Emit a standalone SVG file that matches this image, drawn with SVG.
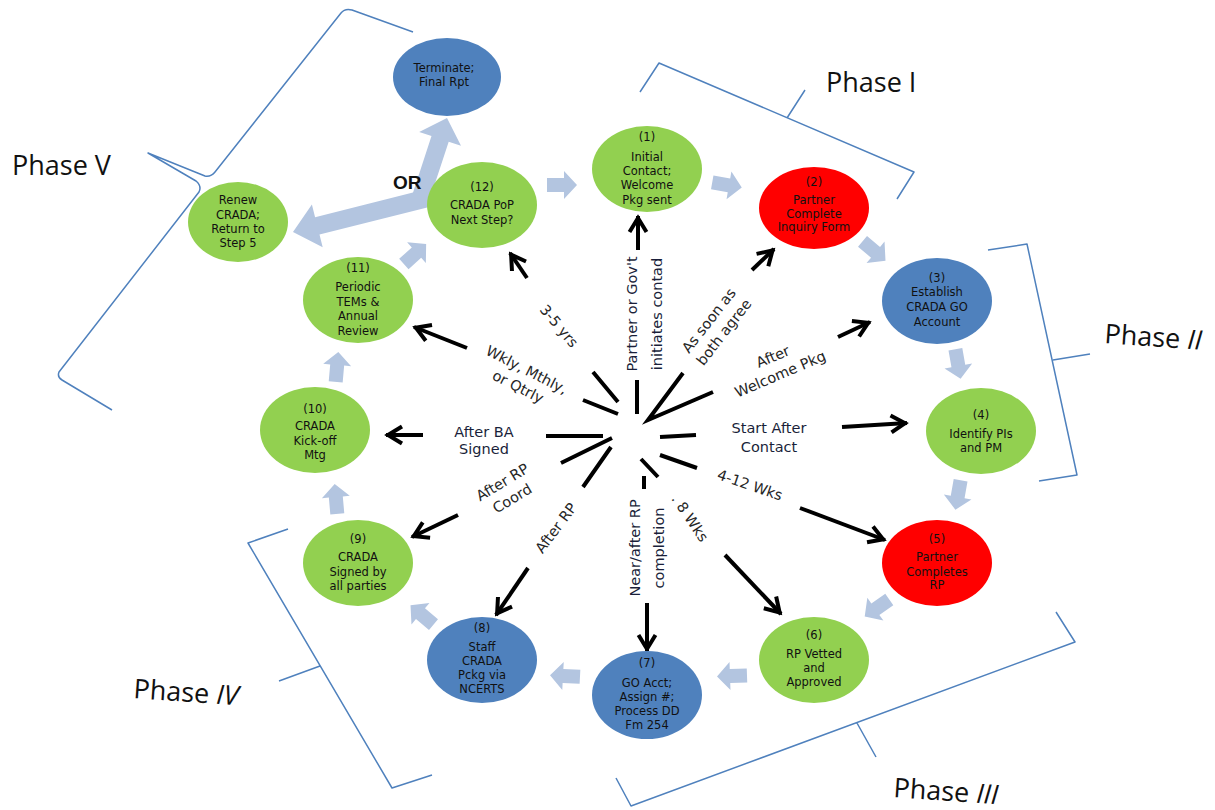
<svg xmlns="http://www.w3.org/2000/svg" width="1215" height="810" viewBox="0 0 1215 810">
<style>
.g{fill:#92D050}.r{fill:#FF0000}.b{fill:#4F81BD}
.nt{font-family:"DejaVu Sans",sans-serif;font-size:11.5px;fill:#111;text-anchor:middle}
.lbl{font-family:"DejaVu Sans",sans-serif;font-size:14.5px;fill:#262626;text-anchor:middle}
.lbn{font-family:"DejaVu Sans",sans-serif;font-size:14.5px;fill:#1a1f3a;text-anchor:middle}
.ph{font-family:"Open Sans",sans-serif;font-size:27px;fill:#111}
.br{fill:none;stroke:#4F81BD;stroke-width:1.5;stroke-linejoin:round}
.sp{stroke:#000;stroke-width:4;fill:none}
.ar{stroke:#000;stroke-width:4;fill:none;marker-end:url(#v)}
.blk{fill:#B3C5E0}
</style>
<defs>
<marker id="v" viewBox="0 0 24 20" refX="19" refY="10" markerWidth="24" markerHeight="20" markerUnits="userSpaceOnUse" orient="auto" style="overflow:visible">
<path d="M3,1.5 L17,10 L3,18.5" fill="none" stroke="#000" stroke-width="4"/>
</marker>
<polygon id="ba" points="-15,-7 2,-7 2,-14 15,0 2,14 2,7 -15,7"/>
</defs>
<rect width="1215" height="810" fill="#fff"/>

<g id="brackets">
<path class="br" d="M640,92 L659,63 L914,172 L897,199 M787,118 L805,90"/>
<path class="br" d="M988,250 L1027,244 L1077,475 L1039,481 M1053,360 L1090,354"/>
<path class="br" d="M1056,612 L1075,642 L631,806 L616,778 M857,723 L876,757"/>
<path class="br" d="M288,529 L248,543 L392,788 L432,775 M320,666 L279,681"/>
<path class="br" d="M413,32 L352,10 Q345,8 341,13 L215,172 Q211,177 205,176 L148,153 L196,181 Q202,186 199,192 L59,372 Q57,377 62,380 L112,410"/>
</g>

<g id="phase-labels">
<text class="ph" x="826" y="92">Phase I</text>
<text class="ph" transform="translate(1104,343) rotate(4)">Phase <tspan font-style="italic">II</tspan></text>
<text class="ph" transform="translate(893,797) rotate(4)">Phase <tspan font-style="italic">III</tspan></text>
<text class="ph" transform="translate(133,698) rotate(4)">Phase <tspan font-style="italic">IV</tspan></text>
<text class="ph" x="12" y="175">Phase V</text>
</g>

<g id="flow-arrows" class="blk">
<polygon points="411.5,197.2 431.5,136.1 419.2,132.0 447,118 461.0,145.8 448.7,141.7 428.6,202.8"/>
<polygon points="425.8,189.3 315.1,217.2 311.9,204.6 293,232 322.7,247.2 319.5,234.6 430.2,206.7"/>
<use href="#ba" transform="translate(562,185) rotate(0)"/>
<use href="#ba" transform="translate(727,185) rotate(10)"/>
<use href="#ba" transform="translate(874,251) rotate(40)"/>
<use href="#ba" transform="translate(958,364) rotate(80)"/>
<use href="#ba" transform="translate(958,495) rotate(100)"/>
<use href="#ba" transform="translate(877,608) rotate(145)"/>
<use href="#ba" transform="translate(732,676) rotate(178)"/>
<use href="#ba" transform="translate(565,676) rotate(183)"/>
<use href="#ba" transform="translate(422,615) rotate(220)"/>
<use href="#ba" transform="translate(336,499) rotate(265)"/>
<use href="#ba" transform="translate(337,367) rotate(275)"/>
<use href="#ba" transform="translate(415,254) rotate(318)"/>
</g>
<text x="393" y="189" font-family="Liberation Sans,sans-serif" font-weight="bold" font-size="19" fill="#111">OR</text>

<g id="connectors">
<path class="sp" d="M593,372 L618,402 M583,400 L618,414 M637,380 L637,414 M683,373 L648,420 L713,392 M660,437 L696,435 M660,455 L697,468 M641,459 L658,477 M644,476 L644,489 M611,447 L583,487 M612,438 L561,463 M546,436 L603,436"/>
<line class="ar" x1="527" y1="278" x2="510" y2="253"/>
<line class="ar" x1="467" y1="348" x2="414" y2="327"/>
<line class="ar" x1="423" y1="435" x2="386" y2="435"/>
<line class="ar" x1="458" y1="515" x2="412" y2="537"/>
<line class="ar" x1="528" y1="568" x2="496" y2="615"/>
<line class="ar" x1="647" y1="603" x2="647" y2="651"/>
<line class="ar" x1="725" y1="555" x2="781" y2="614"/>
<line class="ar" x1="800" y1="508" x2="885" y2="540"/>
<line class="ar" x1="842" y1="427" x2="907" y2="423"/>
<line class="ar" x1="838" y1="337" x2="870" y2="322"/>
<line class="ar" x1="752" y1="270" x2="774" y2="249"/>
<line class="ar" x1="638" y1="250" x2="638" y2="216"/>
</g>

<g id="connector-labels">
<text class="lbl" transform="translate(559,326) rotate(50)" y="5">3-5 yrs</text>
<text class="lbl" transform="translate(523,377) rotate(27)"><tspan x="0" y="-3">Wkly, Mthly,</tspan><tspan x="0" y="16">or Qtrly</tspan></text>
<text class="lbn" transform="translate(644,314) rotate(-90)"><tspan x="0" y="-7">Partner or Gov't</tspan><tspan x="0" y="18">initiates contad</tspan></text>
<text class="lbl" transform="translate(716,326) rotate(-52)"><tspan x="0" y="-4">As soon as</tspan><tspan x="0" y="15">both agree</tspan></text>
<text class="lbl" transform="translate(776,364) rotate(-23)"><tspan x="0" y="-3">After</tspan><tspan x="0" y="16">Welcome Pkg</tspan></text>
<text class="lbn" x="769" y="433">Start After</text>
<text class="lbn" x="769" y="452">Contact</text>
<text class="lbl" transform="translate(750,485) rotate(19)" y="5">4-12 Wks</text>
<text class="lbl" transform="translate(690,518) rotate(56)" y="5">. 8 Wks</text>
<text class="lbn" transform="translate(646,548) rotate(-90)"><tspan x="0" y="-6">Near/after RP</tspan><tspan x="0" y="18">completion</tspan></text>
<text class="lbl" transform="translate(556,528) rotate(-53)" y="5">After RP</text>
<text class="lbl" transform="translate(507,490) rotate(-31)"><tspan x="0" y="-4">After RP</tspan><tspan x="0" y="15">Coord</tspan></text>
<text class="lbn" x="484" y="437">After BA</text>
<text class="lbn" x="484" y="454">Signed</text>
</g>

<g id="node-terminate"><ellipse class="b" cx="447" cy="77" rx="54" ry="39"/>
<text class="nt"><tspan x="444" y="72">Terminate;</tspan><tspan x="444" y="86">Final Rpt</tspan></text></g>
<g id="node-12"><ellipse class="g" cx="482" cy="205" rx="55" ry="43"/>
<text class="nt"><tspan x="482" y="191">(12)</tspan><tspan x="482" y="209">CRADA PoP</tspan><tspan x="482" y="224">Next Step?</tspan></text></g>
<g id="node-renew"><ellipse class="g" cx="238" cy="222" rx="50" ry="40"/>
<text class="nt"><tspan x="238" y="204">Renew</tspan><tspan x="238" y="219">CRADA;</tspan><tspan x="238" y="233">Return to</tspan><tspan x="238" y="247">Step 5</tspan></text></g>
<g id="node-1"><ellipse class="g" cx="647" cy="169" rx="55" ry="43"/>
<text class="nt"><tspan x="647" y="141">(1)</tspan><tspan x="647" y="161">Initial</tspan><tspan x="647" y="175">Contact;</tspan><tspan x="647" y="189">Welcome</tspan><tspan x="647" y="204">Pkg sent</tspan></text></g>
<g id="node-2"><ellipse class="r" cx="814" cy="208" rx="55" ry="41"/>
<text class="nt"><tspan x="814" y="186">(2)</tspan><tspan x="814" y="204">Partner</tspan><tspan x="814" y="218">Complete</tspan><tspan x="814" y="231">Inquiry Form</tspan></text></g>
<g id="node-3"><ellipse class="b" cx="937" cy="301" rx="55" ry="43"/>
<text class="nt"><tspan x="937" y="282">(3)</tspan><tspan x="937" y="296">Establish</tspan><tspan x="937" y="311">CRADA GO</tspan><tspan x="937" y="326">Account</tspan></text></g>
<g id="node-4"><ellipse class="g" cx="981" cy="431" rx="55" ry="43"/>
<text class="nt"><tspan x="981" y="419">(4)</tspan><tspan x="981" y="438">Identify PIs</tspan><tspan x="981" y="452">and PM</tspan></text></g>
<g id="node-5"><ellipse class="r" cx="937" cy="563" rx="55" ry="43"/>
<text class="nt"><tspan x="937" y="543">(5)</tspan><tspan x="937" y="561">Partner</tspan><tspan x="937" y="576">Completes</tspan><tspan x="937" y="589">RP</tspan></text></g>
<g id="node-6"><ellipse class="g" cx="814" cy="660" rx="55" ry="43"/>
<text class="nt"><tspan x="814" y="639">(6)</tspan><tspan x="814" y="658">RP Vetted</tspan><tspan x="814" y="672">and</tspan><tspan x="814" y="686">Approved</tspan></text></g>
<g id="node-7"><ellipse class="b" cx="647" cy="695" rx="55" ry="44"/>
<text class="nt"><tspan x="647" y="667">(7)</tspan><tspan x="647" y="687">GO Acct;</tspan><tspan x="647" y="701">Assign #;</tspan><tspan x="647" y="715">Process DD</tspan><tspan x="647" y="729">Fm 254</tspan></text></g>
<g id="node-8"><ellipse class="b" cx="482" cy="660" rx="55" ry="43"/>
<text class="nt"><tspan x="482" y="632">(8)</tspan><tspan x="482" y="651">Staff</tspan><tspan x="482" y="665">CRADA</tspan><tspan x="482" y="679">Pckg via</tspan><tspan x="482" y="693">NCERTS</tspan></text></g>
<g id="node-9"><ellipse class="g" cx="358" cy="563" rx="55" ry="43"/>
<text class="nt"><tspan x="358" y="543">(9)</tspan><tspan x="358" y="561">CRADA</tspan><tspan x="358" y="576">Signed by</tspan><tspan x="358" y="590">all parties</tspan></text></g>
<g id="node-10"><ellipse class="g" cx="315" cy="430" rx="55" ry="43"/>
<text class="nt"><tspan x="315" y="413">(10)</tspan><tspan x="315" y="430">CRADA</tspan><tspan x="315" y="445">Kick-off</tspan><tspan x="315" y="459">Mtg</tspan></text></g>
<g id="node-11"><ellipse class="g" cx="358" cy="300" rx="55" ry="43"/>
<text class="nt"><tspan x="358" y="272">(11)</tspan><tspan x="358" y="291">Periodic</tspan><tspan x="358" y="306">TEMs &amp;</tspan><tspan x="358" y="320">Annual</tspan><tspan x="358" y="335">Review</tspan></text></g>
</svg>
